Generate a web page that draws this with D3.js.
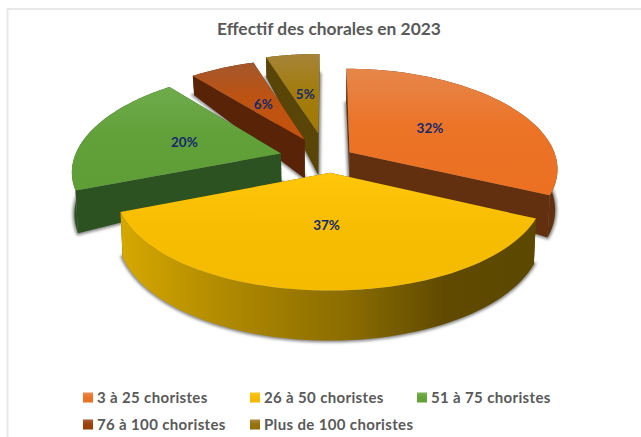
<!DOCTYPE html>
<html>
<head>
<meta charset="utf-8">
<script src="https://cdn.jsdelivr.net/npm/d3@7"></script>
<style>
  html, body { margin: 0; padding: 0; background: #fff; }
  text { font-family: Lato, "Open Sans", sans-serif; font-weight: 700; }
</style>
</head>
<body>
<div id="chart"></div>
<script>
var categories = ["3 à 25 choristes", "26 à 50 choristes", "51 à 75 choristes", "76 à 100 choristes", "Plus de 100 choristes"];
var shares = [32, 37, 20, 6, 5];
var title = "Effectif des chorales en 2023";

// styling per slice
var topLight = ["#e6864a", "#ffc60a", "#6fab4c", "#a3572c", "#a5843a"];
var topDark = ["#ec7020", "#f5bb00", "#5f9e36", "#c4520c", "#a27a02"];
var wallColor = ["#62300e", "#5f4a00", "#2c5222", "#592308", "#594508"];
var swatchLight = ["#f08a4a", "#ffc820", "#78b450", "#ab5a30", "#ad8a3e"];
var swatchDark = ["#e8701f", "#f5b800", "#62a035", "#983c02", "#906e00"];

// how far each slice is pulled out, and wall height at apex / rim
var explode = [27, 29, 48, 48, 58];
var nudgeX = [0, 4, 0, 0, 0];
var depthApex = [25, 40, 29, 39, 42];
var depthRim = [40, 42, 41, 22, 24];

var width = 641, height = 437;
var cx = 327, cy = 159;
var R = 207, Ry = 97, perspX = 0.16, perspY = 0.14;

var svg = d3.select("#chart").append("svg")
    .attr("width", width)
    .attr("height", height)
    .style("display", "block");

var defs = svg.append("defs");
defs.append("filter").attr("id", "blur")
    .attr("x", "-10%").attr("y", "-10%").attr("width", "120%").attr("height", "120%")
    .append("feGaussianBlur").attr("stdDeviation", 1.8);

function vGrad(id, c0, c1) {
    var g = defs.append("linearGradient").attr("id", id)
        .attr("x1", 0).attr("y1", 0).attr("x2", 0).attr("y2", 1);
    g.append("stop").attr("offset", "0%").attr("stop-color", c0);
    g.append("stop").attr("offset", "45%").attr("stop-color", d3.interpolateRgb(c0, c1)(0.8));
    g.append("stop").attr("offset", "100%").attr("stop-color", c1);
}
categories.forEach((c, i) => {
    vGrad("top" + i, topLight[i], topDark[i]);
    vGrad("sw" + i, swatchLight[i], swatchDark[i]);
});

var rimGrad = defs.append("linearGradient").attr("id", "rim1")
    .attr("x1", 0).attr("y1", 0).attr("x2", 1).attr("y2", 0);
[["0%", "#d6a800"], ["25%", "#b08a00"], ["55%", "#8a6c00"], ["78%", "#604a00"], ["100%", "#5c4800"]]
    .forEach(s => rimGrad.append("stop").attr("offset", s[0]).attr("stop-color", s[1]));

// frame
svg.append("path")
    .attr("d", d3.line()([[7.5, height], [7.5, 9], [width, 9]]))
    .attr("fill", "none")
    .attr("stroke", "#e8e8e8")
    .attr("stroke-width", 2);

svg.append("text")
    .attr("x", 329).attr("y", 35)
    .attr("text-anchor", "middle")
    .attr("font-size", 17.4)
    .attr("fill", "#595959")
    .text(title);

var arcs = d3.pie().sort(null).value(d => d)(shares);

// ground plane position -> screen, with a little perspective
function project(px, pz) {
    var sx = 1 / (1 - perspX * pz), sy = 1 / (1 - perspY * pz);
    return [cx + R * px * sx, cy + Ry * pz * sy, sy];
}

function point(i, theta, r) {
    var mid = (arcs[i].startAngle + arcs[i].endAngle) / 2;
    var e = explode[i] / R;
    var p = project(e * Math.sin(mid) + r * Math.sin(theta), -e * Math.cos(mid) - r * Math.cos(theta));
    p[0] += nudgeX[i];
    return p;
}

// bottom of the wall, pulled in a bit towards the centre
function lower(i, theta, r) {
    var p = point(i, theta, r);
    var rel = depthApex[i] + (depthRim[i] - depthApex[i]) * r;
    return [cx + (p[0] - cx) * 0.99, p[1] + rel * (r > 0 ? p[2] : 1)];
}

var closedLine = d3.line().curve(d3.curveLinearClosed);

function slicePaths(i) {
    var a0 = arcs[i].startAngle, a1 = arcs[i].endAngle;
    var thetas = d3.range(0, 61).map(k => a0 + (a1 - a0) * k / 60);
    var apex = point(i, a0, 0);
    var rimTop = thetas.map(t => point(i, t, 1).slice(0, 2));
    var rimLow = thetas.map(t => lower(i, t, 1));
    var apexLow = lower(i, a0, 0);
    return {
        top: closedLine([apex.slice(0, 2)].concat(rimTop)),
        bottom: closedLine([apexLow].concat(rimLow)),
        rim: closedLine(rimTop.concat(rimLow.slice().reverse())),
        faces: [
            [apex.slice(0, 2), rimTop[0], rimLow[0], apexLow],
            [apex.slice(0, 2), rimTop[60], rimLow[60], apexLow]
        ].sort((f, g) => d3.max(f, d => d[1]) - d3.max(g, d => d[1]))
    };
}

// back to front
var drawOrder = [4, 3, 2, 0, 1];
drawOrder.forEach(i => {
    var p = slicePaths(i);
    var g = svg.append("g");
    g.append("path")
        .attr("d", p.bottom)
        .attr("fill", "#5a5a5a")
        .attr("stroke", "#5a5a5a")
        .attr("stroke-width", 3.5)
        .attr("opacity", 0.75)
        .attr("filter", "url(#blur)");
    p.faces.forEach(f => {
        g.append("path").attr("d", closedLine(f)).attr("fill", wallColor[i]);
    });
    g.append("path").attr("d", p.rim).attr("fill", i == 1 ? "url(#rim1)" : wallColor[i]);
    g.append("path").attr("d", p.top).attr("fill", "url(#top" + i + ")");
});

// percent labels
var labelR = [0.49, 0.48, 0.5, 0.47, 0.47];
arcs.forEach((a, i) => {
    var mid = (a.startAngle + a.endAngle) / 2;
    var p = point(i, mid, labelR[i]);
    svg.append("text")
        .attr("x", p[0]).attr("y", p[1])
        .attr("dy", "0.35em")
        .attr("text-anchor", "middle")
        .attr("font-size", 13.5)
        .attr("fill", "#14296c")
        .text(shares[i] + "%");
});

// legend, 3 columns 2 rows
var legX = d3.scaleBand().domain([0, 1, 2]).range([83, 584]);
var legY = d3.scaleBand().domain([0, 1]).range([384, 438]);
var leg = svg.selectAll(".leg").data(categories).enter().append("g")
    .attr("class", "leg")
    .attr("transform", (d, i) => "translate(" + legX(i % 3) + "," + legY(Math.floor(i / 3)) + ")");
leg.append("rect")
    .attr("y", legY.bandwidth() / 2 - 5)
    .attr("width", 10).attr("height", 10)
    .attr("fill", (d, i) => "url(#sw" + i + ")");
leg.append("text")
    .attr("x", 14)
    .attr("y", legY.bandwidth() / 2)
    .attr("dy", "0.35em")
    .attr("font-size", 15)
    .attr("letter-spacing", 0.35)
    .attr("fill", "#595959")
    .text(d => d);
</script>
</body>
</html>
